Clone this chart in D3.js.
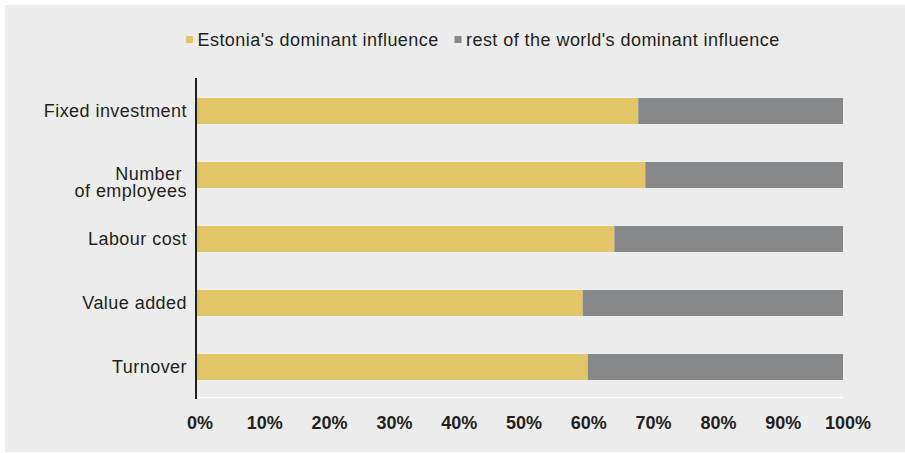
<!DOCTYPE html>
<html>
<head>
<meta charset="utf-8">
<script src="https://cdn.jsdelivr.net/npm/d3@7"></script>
<style>
  body { margin: 0; background: #ffffff; }
  text { font-family: "Liberation Sans", Arial, sans-serif; fill: #231f20; }
</style>
</head>
<body>
<div id="chart"></div>
<script>
// categories, top to bottom
var categories = ["Fixed investment", "Number of employees", "Labour cost", "Value added", "Turnover"];
// label lines (the second one wraps in the original)
var labelLines = [["Fixed investment"], ["Number", "of employees"], ["Labour cost"], ["Value added"], ["Turnover"]];
// share of Estonia's dominant influence, %
var estonia = [68.3, 69.4, 64.6, 59.7, 60.5];
// rest of the world = remainder up to 100
var restWorld = [31.7, 30.6, 35.4, 40.3, 39.5];
var seriesNames = ["Estonia's dominant influence", "rest of the world's dominant influence"];
var tickValues = [0, 10, 20, 30, 40, 50, 60, 70, 80, 90, 100];

var color = d3.scaleOrdinal()
    .domain(seriesNames)
    .range(["#e1c566", "#87888a"]);

const width = 905, height = 453;

var svg = d3.select("#chart").append("svg")
    .attr("width", width)
    .attr("height", height);

// grey panel
svg.append("rect")
    .attr("x", 5).attr("y", 5)
    .attr("width", width - 5).attr("height", 447)
    .attr("fill", "#ececec");

var x = d3.scaleLinear().domain([0, 100]).range([197, 843]);
var y = d3.scaleBand().domain(categories).range([79, 399])
    .paddingInner(0.594).paddingOuter(0.297);

var rows = categories.map(function(c, i) {
    return {name: c, lines: labelLines[i], est: estonia[i], rest: restWorld[i]};
});

// stacked bars
var stack = d3.stack().keys(["est", "rest"]);
var layers = stack(rows);

svg.selectAll("g.layer")
    .data(layers)
    .enter().append("g")
    .attr("class", "layer")
    .attr("fill", function(d, i) { return color(seriesNames[i]); })
    .selectAll("rect")
    .data(function(d) { return d; })
    .enter().append("rect")
    .attr("x", function(d) { return x(d[0]); })
    .attr("width", function(d) { return x(d[1]) - x(d[0]); })
    .attr("y", function(d) { return y(d.data.name); })
    .attr("height", y.bandwidth());

// white baseline under the bars
svg.append("line")
    .attr("x1", x(0)).attr("x2", x(100))
    .attr("y1", 397.5).attr("y2", 397.5)
    .attr("stroke", "#ffffff").attr("stroke-width", 1.5);

// vertical axis line
svg.append("line")
    .attr("x1", 196).attr("x2", 196)
    .attr("y1", 78).attr("y2", 399)
    .attr("stroke", "#231f20").attr("stroke-width", 2);

// category labels
var lab = svg.selectAll("text.cat")
    .data(rows)
    .enter().append("text")
    .attr("class", "cat")
    .attr("text-anchor", "end")
    .style("font-size", "18px")
    .style("letter-spacing", "0.45px")
    .attr("y", function(d) { return y(d.name) + y.bandwidth() / 2 + (d.lines.length > 1 ? 5 : 6); });

lab.selectAll("tspan")
    .data(function(d) { return d.lines; })
    .enter().append("tspan")
    .attr("x", function(d, i, n) { return n.length > 1 && i == 0 ? 182 : 187; })
    .attr("dy", function(d, i) { return i == 0 ? 0 : "16.5px"; })
    .text(function(d) { return d; });

// x tick labels
svg.selectAll("text.tick")
    .data(tickValues)
    .enter().append("text")
    .attr("class", "tick")
    .attr("x", function(d) { return x(d) + 3 + d * 0.02; })
    .attr("y", 429)
    .attr("text-anchor", "middle")
    .style("font-size", "18px")
    .style("font-weight", "bold")
    .text(function(d) { return d + "%"; });

// legend
var legendX = [186, 454.5];
var leg = svg.selectAll("g.legend")
    .data(seriesNames)
    .enter().append("g")
    .attr("class", "legend")
    .attr("transform", function(d, i) { return "translate(" + legendX[i] + ",0)"; });

leg.append("rect")
    .attr("x", 0).attr("y", 36)
    .attr("width", 7).attr("height", 7)
    .attr("fill", function(d) { return color(d); });

leg.append("text")
    .attr("x", 11.5).attr("y", 46)
    .style("font-size", "18px")
    .style("letter-spacing", "0.45px")
    .text(function(d) { return d; });
</script>
</body>
</html>
